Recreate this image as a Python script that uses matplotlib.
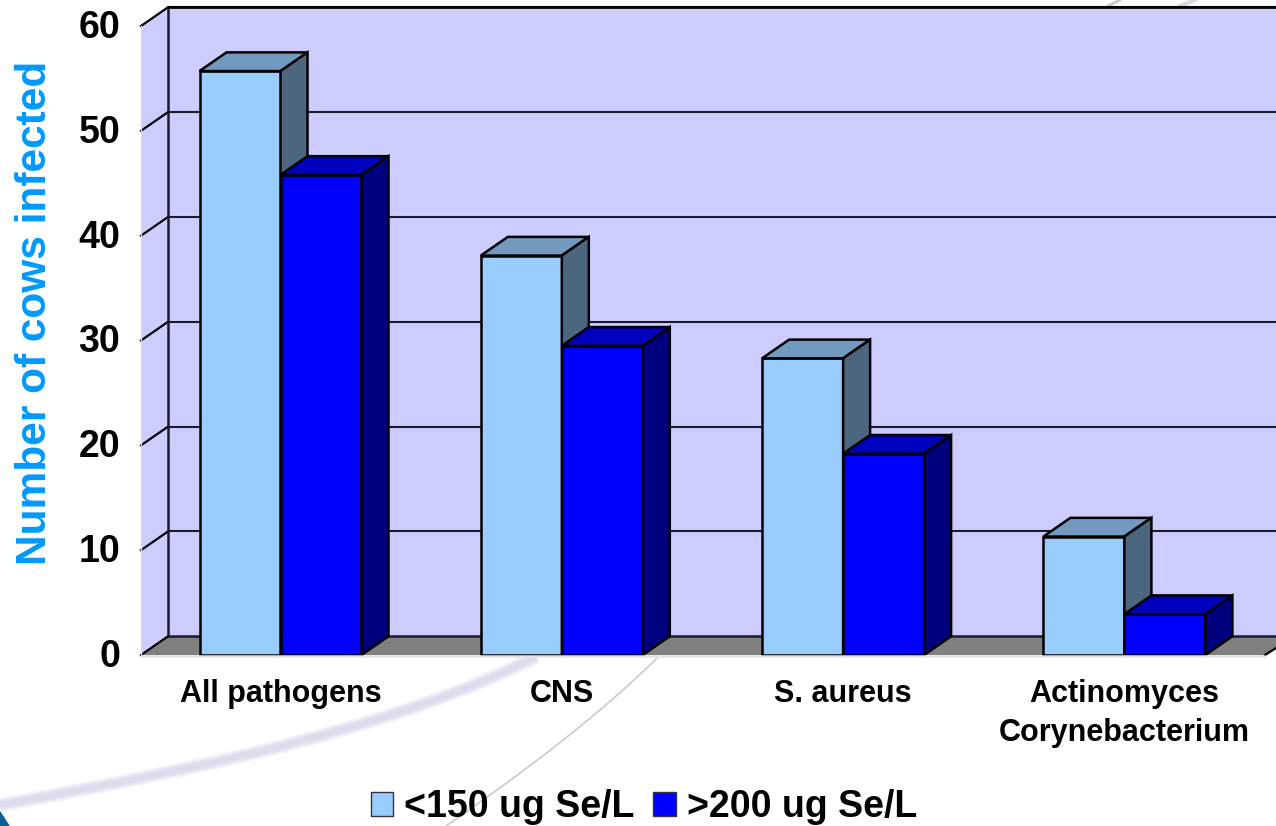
import matplotlib
matplotlib.use("Agg")
import matplotlib.pyplot as plt
from matplotlib.patches import Polygon, PathPatch
from matplotlib.path import Path
from matplotlib.transforms import ScaledTranslation

plt.rcParams["font.family"] = ["Liberation Sans", "DejaVu Sans"]
plt.rcParams["font.weight"] = "bold"

categories = ["All pathogens", "CNS", "S. aureus", "Actinomyces\nCorynebacterium"]
low_se = [55.7, 38.1, 28.3, 11.3]
high_se = [45.8, 29.5, 19.2, 3.9]
low_label = "<150 ug Se/L"
high_label = ">200 ug Se/L"
y_ticks = [0, 10, 20, 30, 40, 50, 60]

# background swooshes, bezier controls in pixels of the 1276x826 picture
band_pts = [(0, 805), (220, 765), (400, 725), (536, 657)]
thin_pts = [(658, 657), (600, 715), (520, 775), (446, 826)]

W, H = 1276, 826
fig = plt.figure(figsize=(W / 100, H / 100), dpi=100, facecolor="white")

bg = fig.add_axes([0, 0, 1, 1], zorder=0)
bg.set_xlim(0, W)
bg.set_ylim(H, 0)
bg.axis("off")
codes = [Path.MOVETO, Path.CURVE4, Path.CURVE4, Path.CURVE4]
for lw, alpha in [(10, 0.35), (7, 0.5), (4, 0.6)]:
    bg.add_patch(PathPatch(Path(band_pts, codes), fill=False, edgecolor="#d8d8ec", lw=lw, alpha=alpha, capstyle="butt"))
bg.add_patch(PathPatch(Path(thin_pts, codes), fill=False, edgecolor="#c4ccd4", lw=1.2))
bg.add_patch(Polygon([(0, 812), (9, 826), (0, 826)], color="#0b5f96"))
bg.plot([1108, 1120], [6, 0], color="#c8c8d0", lw=2)
bg.plot([1180, 1195], [6, 0], color="#d8d8e4", lw=3)

# front plane of the chart: x 141..1265, y 26..655 px
ax = fig.add_axes([141 / W, 1 - 655 / H, (1265 - 141) / W, (655 - 26) / H], zorder=1)
ax.patch.set_alpha(0)
for s in ax.spines.values():
    s.set_visible(False)

px_per_cat = 281.3
px_per_val = 629 / 60
x0 = (141 - 280.5) / px_per_cat
x1 = x0 + (1265 - 141) / px_per_cat
ax.set_xlim(x0, x1)
ax.set_ylim(0, 60)

dx = 27 / px_per_cat
dy = 18.7 / px_per_val
bar_w = 81 / px_per_cat
right = x0 + (1276 - 141) / px_per_cat

edge = dict(edgecolor="black", linewidth=1.8, joinstyle="miter", clip_on=False)

# walls and floor
ax.add_patch(Polygon([(x0 + dx, dy), (right, dy), (right, 60 + dy), (x0 + dx, 60 + dy)],
                     facecolor="#ccccff", edgecolor="none", clip_on=False, zorder=1))
ax.add_patch(Polygon([(x0, 0), (x0 + dx, dy), (x0 + dx, 60 + dy), (x0, 60)],
                     facecolor="#ccccff", edgecolor="none", clip_on=False, zorder=1))
ax.add_patch(Polygon([(x0, 0), (x0 + dx, dy), (right, dy), (right, 7 / px_per_val), (x1, 0)],
                     facecolor="#808080", edgecolor="none", clip_on=False, zorder=1))
for t in y_ticks:
    ax.plot([x0 + dx, right], [t + dy, t + dy], color="#1a1a2a", lw=1.5 if t else 1.8, clip_on=False, zorder=2,
            solid_capstyle="butt")
    ax.plot([x0, x0 + dx], [t, t + dy], color="black", lw=1.6, clip_on=False, zorder=2)
ax.plot([x0 + dx, x0 + dx], [dy, 60 + dy], color="#1a1a2a", lw=1.8, clip_on=False, zorder=2)
ax.plot([x0 + dx, right], [60 + dy, 60 + dy], color="black", lw=2, clip_on=False, zorder=2)
ax.plot([x0, x0], [0, 60], color="#d8d8e0", lw=1, clip_on=False, zorder=2)
ax.plot([x1, right], [0, 7 / px_per_val], color="black", lw=1.6, clip_on=False, zorder=2)


def box(i, left, val, front, top, side, label):
    z = 3 + i + (0.5 if front == "#0000ff" else 0)
    ax.bar(left, val, bar_w, align="edge", color=front, label=label, zorder=z, **edge)
    ax.add_patch(Polygon([(left, val), (left + dx, val + dy), (left + bar_w + dx, val + dy), (left + bar_w, val)],
                         facecolor=top, zorder=z, **edge))
    ax.add_patch(Polygon([(left + bar_w, 0), (left + bar_w + dx, dy), (left + bar_w + dx, val + dy), (left + bar_w, val)],
                         facecolor=side, zorder=z, **edge))


for i in range(len(categories)):
    box(i, i - bar_w, low_se[i], "#99ccff", "#7299bf", "#4c667f", low_label if i == 0 else None)
    box(i, i, high_se[i], "#0000ff", "#0000bf", "#00007f", high_label if i == 0 else None)

# pale front edge of the floor hides the bars' bottom outline
ax.plot([x0, x1], [-0.12, -0.12], color="#e4e4e4", lw=1.8, clip_on=False, zorder=20, solid_capstyle="butt")

ax.set_yticks(y_ticks)
ax.tick_params(axis="y", length=0, pad=15, labelsize=27)
for lab in ax.get_yticklabels():
    lab.set_transform(lab.get_transform() + ScaledTranslation(0, 2 / 100, fig.dpi_scale_trans))
ax.set_xticks(range(len(categories)))
ax.set_xticklabels(categories, fontsize=22, linespacing=1.42, va="top")
ax.tick_params(axis="x", length=0, pad=17)
ax.set_ylabel("Number of cows infected", fontsize=30.5, color="#0099ff", fontweight="bold", va="center")
ax.yaxis.set_label_coords((35 - 141) / (1265 - 141), (655 - 313) / 629)

leg = ax.legend(loc="center", bbox_to_anchor=((644 - 141) / (1265 - 141), (655 - 807) / 629), ncol=2, frameon=False,
                fontsize=27, handlelength=0.6, handleheight=0.6, handletextpad=0.3, columnspacing=0.5,
                borderpad=0, borderaxespad=0)
for p in leg.get_patches():
    p.set_edgecolor("#333344")
    p.set_linewidth(1)

fig.savefig("out.png", dpi=100)
